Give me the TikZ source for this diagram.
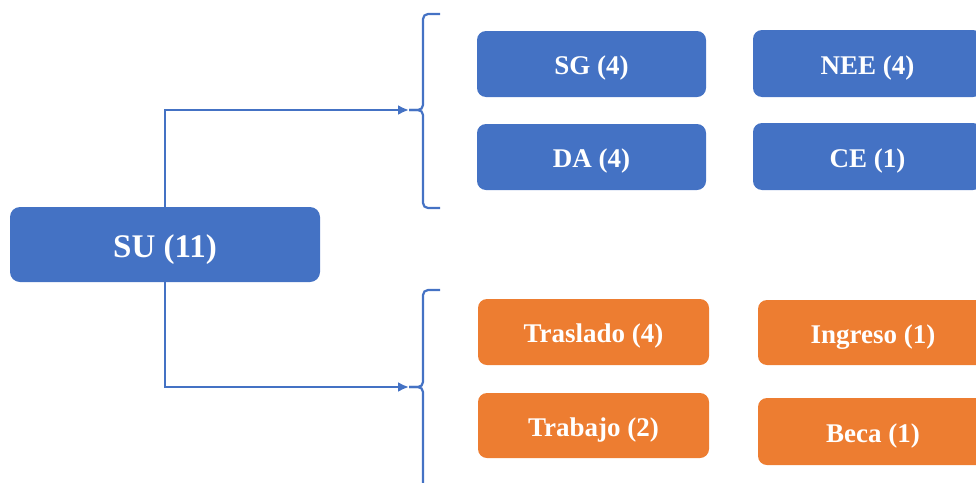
\documentclass[tikz,border=0pt]{standalone}
\usepackage{fontspec}
\setmainfont{Liberation Serif}
\usetikzlibrary{arrows.meta}
\definecolor{oblue}{HTML}{4472C4}
\definecolor{oorange}{HTML}{ED7D31}
\tikzset{
  boxbase/.style={rounded corners=9pt, text=white, inner sep=0pt, text height=21pt, text depth=0pt,
                  font=\bfseries\fontsize{27}{30}\selectfont},
  bluebox/.style={boxbase, fill=oblue},
  orangebox/.style={boxbase, fill=oorange},
  conn/.style={draw=oblue, line width=2.2pt},
  bracestyle/.style={draw=oblue, line width=2.2pt, rounded corners=5pt},
}
\begin{document}
\begin{tikzpicture}[x=1pt,y=-1pt]
\useasboundingbox (0,0) rectangle (976,482);
\clip (0,0) rectangle (976,482);
% main node
\node[bluebox, minimum width=310pt, minimum height=75pt, rounded corners=10pt, text height=25pt,
      font=\bfseries\fontsize{33}{36}\selectfont] (su) at (165,244.5) {SU (11)};
% blue group
\node[bluebox, minimum width=229pt, minimum height=66pt] (sg)  at (591.5,64) {SG (4)};
\node[bluebox, minimum width=229pt, minimum height=66pt] (da)  at (591.5,157) {DA (4)};
\node[bluebox, minimum width=229pt, minimum height=67pt] (nee) at (867.5,63.5) {NEE (4)};
\node[bluebox, minimum width=229pt, minimum height=67pt] (ce)  at (867.5,156.5) {CE (1)};
% orange group
\node[orangebox, minimum width=231pt, minimum height=66pt] (tras) at (593.5,332) {Traslado (4)};
\node[orangebox, minimum width=231pt, minimum height=65pt] (trab) at (593.5,425.5) {Trabajo (2)};
\node[orangebox, minimum width=230pt, minimum height=65pt] (ing)  at (873,332.5) {Ingreso (1)};
\node[orangebox, minimum width=230pt, minimum height=67pt] (beca) at (873,431.5) {Beca (1)};
% braces
\coordinate (b1) at (409,110);
\coordinate (b2) at (409,387);
\draw[bracestyle] (440,14) -- (423,14) -- (423,110) -- (b1);
\draw[bracestyle] (b1) -- (423,110) -- (423,208) -- (440,208);
\draw[bracestyle] (440,290) -- (423,290) -- (423,387) -- (b2);
\draw[bracestyle] (b2) -- (423,387) -- (423,490);
% connectors
\draw[conn, -{Latex[length=11pt,width=10pt]}] (su.north) |- (b1);
\draw[conn, -{Latex[length=11pt,width=10pt]}] (su.south) |- (b2);
\end{tikzpicture}
\end{document}
